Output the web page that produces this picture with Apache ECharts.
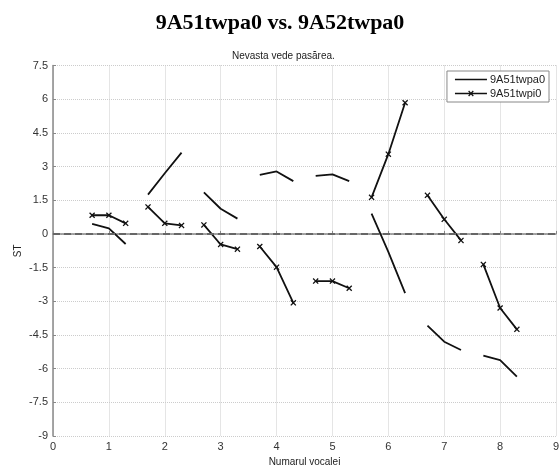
<!DOCTYPE html>
<html><head><meta charset="utf-8">
<script src="https://cdn.jsdelivr.net/npm/echarts@6/dist/echarts.min.js"></script>
<style>html,body{margin:0;padding:0;background:#fff}#c{width:560px;height:465px}</style>
</head><body><div id="c"></div>
<script>
const mainTitle = '9A51twpa0 vs. 9A52twpa0';
const subTitle = 'Nevasta vede pasărea.';
const xName = 'Numarul vocalei';
const yName = 'ST';
const seriesNames = ['9A51twpa0', '9A51twpi0'];
const vowels = [1, 2, 3, 4, 5, 6, 7, 8];
const offsets = [-0.3, 0, 0.3];
const twpa0 = [
  [0.45, 0.25, -0.45],
  [1.75, 2.7, 3.62],
  [1.85, 1.12, 0.68],
  [2.63, 2.78, 2.35],
  [2.58, 2.65, 2.35],
  [0.9, -0.8, -2.64],
  [-4.08, -4.8, -5.17],
  [-5.42, -5.62, -6.36]
];
const twpi0 = [
  [0.83, 0.83, 0.47],
  [1.2, 0.47, 0.38],
  [0.4, -0.47, -0.68],
  [-0.56, -1.48, -3.07],
  [-2.1, -2.1, -2.42],
  [1.63, 3.55, 5.84],
  [1.72, 0.65, -0.29],
  [-1.36, -3.3, -4.25]
];
const referenceLevel = 0;
const xTicks = {min: 0, max: 9, interval: 1};
const yTicks = {min: -9, max: 7.5, interval: 1.5};

const sans = 'Liberation Sans, Arial, sans-serif';
const xMark = 'path://M0,1.5 L1.5,0 L5,3.5 L8.5,0 L10,1.5 L6.5,5 L10,8.5 L8.5,10 L5,6.5 L1.5,10 L0,8.5 L3.5,5 Z';
const legendLineIcon = 'path://M0,4.2 L32,4.2 L32,5.8 L0,5.8 Z';
const legendXIcon = 'path://M0,4.3 L32,4.3 L32,5.7 L0,5.7 Z M13.2,2.9 L14.1,2 L16,3.9 L17.9,2 L18.8,2.9 L16.9,4.8 L16.9,5.2 L18.8,7.1 L17.9,8 L16,6.1 L14.1,8 L13.2,7.1 L15.1,5.2 L15.1,4.8 Z';

const series = [];
vowels.forEach((v, i) => {
  series.push({
    name: seriesNames[0], type: 'line', symbol: 'none',
    lineStyle: {color: '#111', width: 1.8},
    itemStyle: {color: '#111'},
    data: offsets.map((o, j) => [v + o, twpa0[i][j]]),
    animation: false, z: 3,
    markLine: i === 0 ? {
      silent: true, symbol: 'none', label: {show: false},
      lineStyle: {color: '#666', type: [7, 4], width: 2},
      data: [{yAxis: referenceLevel}]
    } : undefined
  });
  series.push({
    name: seriesNames[1], type: 'line', symbol: xMark, symbolSize: 6,
    lineStyle: {color: '#111', width: 1.8},
    itemStyle: {color: '#111'},
    data: offsets.map((o, j) => [v + o, twpi0[i][j]]),
    animation: false, z: 3
  });
});

const chart = echarts.init(document.getElementById('c'), null, {renderer: 'canvas'});
chart.setOption({
  backgroundColor: '#fff',
  animation: false,
  title: [
    {text: mainTitle, left: 'center', top: 7,
     textStyle: {fontFamily: 'Liberation Serif, Times New Roman, serif', fontWeight: 'bold', fontSize: 22, color: '#000'}},
    {text: subTitle, left: 227, top: 46,
     textStyle: {fontFamily: sans, fontWeight: 'normal', fontSize: 10, color: '#222'}}
  ],
  legend: {
    orient: 'vertical', right: 11, top: 71,
    data: [
      {name: seriesNames[0], icon: legendLineIcon},
      {name: seriesNames[1], icon: legendXIcon}
    ],
    itemWidth: 32, itemHeight: 10, itemGap: 3,
    padding: [3, 4, 3, 8],
    borderColor: '#888', borderWidth: 1, backgroundColor: '#fff',
    itemStyle: {color: '#111'},
    textStyle: {fontFamily: sans, fontSize: 11, color: '#222', padding: [0, 0, 0, -2]}
  },
  grid: {left: 53, right: 4, top: 65.5, bottom: 29, containLabel: false, outerBoundsMode: 'none'},
  xAxis: {
    type: 'value', min: xTicks.min, max: xTicks.max, interval: xTicks.interval,
    name: xName, nameLocation: 'middle', nameGap: 20,
    nameTextStyle: {fontFamily: sans, fontSize: 10, color: '#222'},
    axisLine: {show: true, lineStyle: {color: '#888', width: 1.5}},
    axisTick: {show: true, inside: true, length: 3, lineStyle: {color: '#888'}},
    axisLabel: {fontFamily: sans, fontSize: 11, color: '#333', margin: 5},
    splitLine: {show: true, lineStyle: {color: '#ccc', type: 'dotted', width: 1}}
  },
  yAxis: {
    type: 'value', min: yTicks.min, max: yTicks.max, interval: yTicks.interval,
    name: yName, nameLocation: 'middle', nameGap: 30, nameMoveOverlap: false,
    nameTextStyle: {fontFamily: sans, fontSize: 10, color: '#222'},
    axisLine: {show: true, lineStyle: {color: '#888', width: 1.5}},
    axisTick: {show: true, inside: true, length: 3, lineStyle: {color: '#888'}},
    axisLabel: {fontFamily: sans, fontSize: 11, color: '#333', margin: 5},
    splitLine: {show: true, lineStyle: {color: '#ccc', type: 'dotted', width: 1}}
  },
  series: series
});
</script></body></html>
